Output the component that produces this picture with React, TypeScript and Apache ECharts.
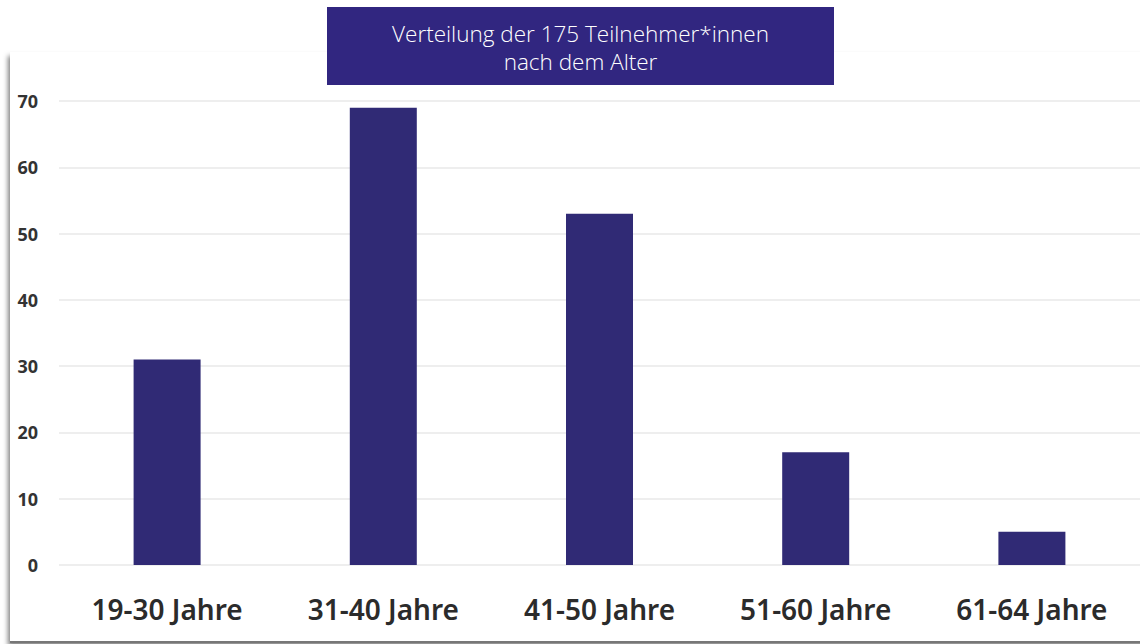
import React, { useEffect, useRef } from "react";
import * as echarts from "echarts";

const categories = ["19-30 Jahre", "31-40 Jahre", "41-50 Jahre", "51-60 Jahre", "61-64 Jahre"];
const values = [31, 69, 53, 17, 5];
const titleLines = ["Verteilung der 175 Teilnehmer*innen", "nach dem Alter"];

export default function App() {
  const ref = useRef<HTMLDivElement>(null);
  useEffect(() => {
    document.body.style.margin = "0";
    const chart = echarts.init(ref.current!, null, { renderer: "svg" });
    chart.setOption({
      animation: false,
      backgroundColor: "#ffffff",
      graphic: [
        {
          type: "rect",
          shape: { x: 10, y: 52, width: 1140, height: 590 },
          style: { fill: "#ffffff", stroke: "none", shadowBlur: 5, shadowColor: "rgba(0,0,0,0.5)", shadowOffsetX: -2, shadowOffsetY: 4 },
          z: -10,
        },
        {
          type: "line",
          shape: { x1: 10, y1: 642, x2: 1140, y2: 642 },
          style: { stroke: "#777777", lineWidth: 2 },
          z: -9,
        },
        {
          type: "rect",
          shape: { x: 327, y: 7, width: 507, height: 78 },
          style: { fill: "#312680" },
          z: 10,
        },
        ...titleLines.map((t, i) => ({
          type: "text",
          x: 580.5,
          y: 33 + i * 28,
          z: 11,
          style: {
            text: t,
            fill: "#ffffff",
            font: "300 22.5px 'Open Sans'",
            align: "center",
            verticalAlign: "middle",
          },
        })),
      ],
      grid: { left: 59, right: -3, top: 101, bottom: 79, containLabel: false },
      xAxis: {
        type: "category",
        data: categories,
        axisLine: { show: false },
        axisTick: { show: false },
        axisLabel: {
          color: "#2b2b2b",
          fontFamily: "Noto Sans",
          fontWeight: 600,
          fontSize: 28,
          margin: 30,
        },
      },
      yAxis: {
        type: "value",
        min: 0,
        max: 70,
        interval: 10,
        axisLine: { show: false },
        axisTick: { show: false },
        axisLabel: {
          color: "#333333",
          fontFamily: "Noto Sans",
          fontWeight: 700,
          fontSize: 18,
          margin: 21,
        },
        splitLine: { lineStyle: { color: "#eeeeee", width: 2 } },
      },
      series: [
        {
          type: "bar",
          data: values,
          barWidth: 67,
          itemStyle: { color: "#302a75" },
        },
      ],
    });
    return () => chart.dispose();
  }, []);
  return <div ref={ref} style={{ width: 1140, height: 644 }} />;
}
